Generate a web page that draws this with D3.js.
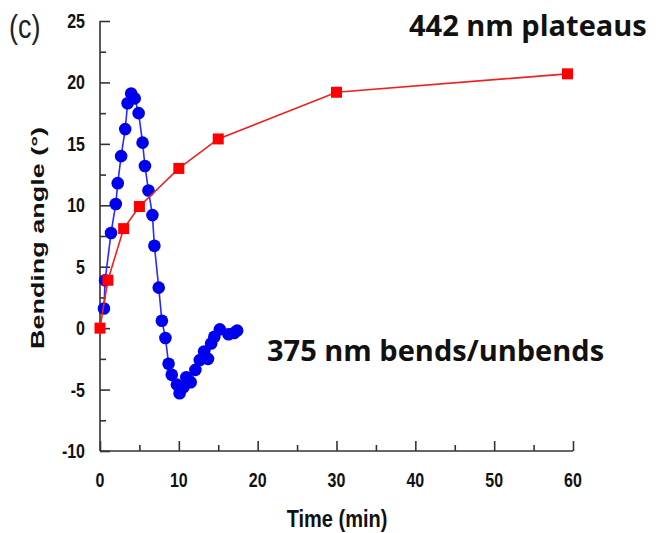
<!DOCTYPE html>
<html>
<head>
<meta charset="utf-8">
<script src="https://cdn.jsdelivr.net/npm/d3@7"></script>
<style>
body { margin: 0; background: #fff; }
svg { display: block; }
</style>
</head>
<body>
<svg id="chart"></svg>
<script>
var width = 665
var height = 533

// 442 nm (red squares)
var redTime  = [0, 1, 3, 5, 10, 15, 30, 59.3]
var redAngle = [0, 3.9, 8.1, 9.9, 13.0, 15.4, 19.2, 20.7]

// 375 nm (blue circles)
var blueTime  = [0.5, 0.65, 1.4, 2.0, 2.25, 2.68, 3.2, 3.5, 3.95, 4.4, 4.9, 5.4, 5.7, 6.15, 6.65, 6.9, 7.45, 7.85,
                 8.3, 8.7, 9.1, 9.75, 10.1, 10.6, 10.95, 11.5, 12.1, 12.65, 13.2, 13.7, 14.1, 14.5, 15.2, 16.3, 17.0, 17.4]
var blueAngle = [1.6, 3.9, 7.75, 10.1, 11.8, 14.0, 16.2, 18.3, 19.1, 18.7, 17.5, 15.1, 13.2, 11.2, 9.2, 6.7, 3.3, 0.6,
                 -0.8, -2.9, -3.8, -4.6, -5.3, -4.8, -4.0, -4.4, -3.4, -2.6, -1.9, -2.5, -1.25, -0.7, -0.1, -0.5, -0.4, -0.2]

var xTicks = [0, 10, 20, 30, 40, 50, 60]
var yTicks = [-10, -5, 0, 5, 10, 15, 20, 25]

var red = d3.zip(redTime, redAngle)
var blue = d3.zip(blueTime, blueAngle)

const svg = d3.select("#chart")
  .attr("width", width)
  .attr("height", height)

x = d3.scaleLinear().domain([0, 60]).range([100, 573])
y = d3.scaleLinear().domain([-10, 25]).range([451, 21])

var arial = "'Liberation Sans', Arial, sans-serif"

// the original figure is stretched vertically, so its text is tall and narrow
function label(px, py, sy, rot) {
  return "translate(" + px + "," + py + ")" + (rot ? " rotate(" + rot + ")" : "") +
    (rot ? " scale(" + sy + ",1)" : " scale(1," + sy + ")")
}

// axes, ticks pointing inward
const gx = svg.append("g")
  .attr("transform", "translate(0," + y(-10) + ")")
  .call(d3.axisTop(x).tickValues(d3.range(0, 61, 5)).tickSize(9).tickFormat(""))
gx.selectAll(".tick line").attr("y2", d => d % 10 === 0 ? -10 : -6)
gx.select(".domain").attr("d", "M" + x(0) + ",0H" + x(60))

const gy = svg.append("g")
  .attr("transform", "translate(" + x(0) + ",0)")
  .call(d3.axisRight(y).tickValues(d3.range(-10, 25.1, 2.5)).tickSize(9).tickFormat(""))
gy.selectAll(".tick line").attr("x2", d => d % 5 === 0 ? 10 : 6)
gy.select(".domain").attr("d", "M0," + y(-10) + "V" + y(25))

svg.selectAll(".domain, .tick line").attr("stroke", "#333").attr("stroke-width", 1.6)

// tick labels
svg.append("g").selectAll("text")
  .data(xTicks)
  .enter().append("text")
  .attr("transform", d => label(x(d), 487, 1.3))
  .attr("text-anchor", "middle")
  .attr("font-family", arial)
  .attr("font-weight", "bold")
  .attr("font-size", 16)
  .attr("fill", "#111")
  .text(d => d)

svg.append("g").selectAll("text")
  .data(yTicks)
  .enter().append("text")
  .attr("transform", d => label(85, y(d) + 7, 1.3))
  .attr("text-anchor", "end")
  .attr("font-family", arial)
  .attr("font-weight", "bold")
  .attr("font-size", 16)
  .attr("fill", "#111")
  .text(d => d)

// axis titles
svg.append("text")
  .attr("transform", label(337, 527, 1.2))
  .attr("text-anchor", "middle")
  .attr("font-family", arial)
  .attr("font-weight", "bold")
  .attr("font-size", 20)
  .attr("fill", "#111")
  .text("Time (min)")

svg.append("text")
  .attr("transform", label(44, 238, 1.5, -90))
  .attr("text-anchor", "middle")
  .attr("font-family", arial)
  .attr("font-weight", "bold")
  .attr("font-size", 18)
  .attr("fill", "#111")
  .text("Bending angle (°)")

svg.append("text")
  .attr("transform", label(9, 38, 1.25))
  .attr("font-family", arial)
  .attr("font-size", 27)
  .attr("fill", "#222")
  .text("(c)")

// series
const line = d3.line().x(d => x(d[0])).y(d => y(d[1]))

svg.append("path")
  .datum(blue)
  .attr("fill", "none")
  .attr("stroke", "#2a2aff")
  .attr("stroke-width", 1.6)
  .attr("d", line)

svg.append("g").selectAll("circle")
  .data(blue)
  .enter().append("circle")
  .attr("cx", d => x(d[0]))
  .attr("cy", d => y(d[1]))
  .attr("r", 6.3)
  .attr("fill", "#0000f0")

svg.append("path")
  .datum(red)
  .attr("fill", "none")
  .attr("stroke", "#f02020")
  .attr("stroke-width", 1.6)
  .attr("d", line)

svg.append("g").selectAll("rect")
  .data(red)
  .enter().append("rect")
  .attr("x", d => x(d[0]) - 5.5)
  .attr("y", d => y(d[1]) - 5.5)
  .attr("width", 11)
  .attr("height", 11)
  .attr("fill", "#ff0000")

// annotations
svg.append("text")
  .attr("x", 409).attr("y", 36)
  .attr("font-family", "'Open Sans', sans-serif")
  .attr("font-weight", "bold")
  .attr("font-size", 29)
  .attr("fill", "#111")
  .text("442 nm plateaus")

svg.append("text")
  .attr("x", 267).attr("y", 361)
  .attr("font-family", "'Open Sans', sans-serif")
  .attr("font-weight", "bold")
  .attr("font-size", 29)
  .attr("fill", "#111")
  .text("375 nm bends/unbends")
</script>
</body>
</html>
